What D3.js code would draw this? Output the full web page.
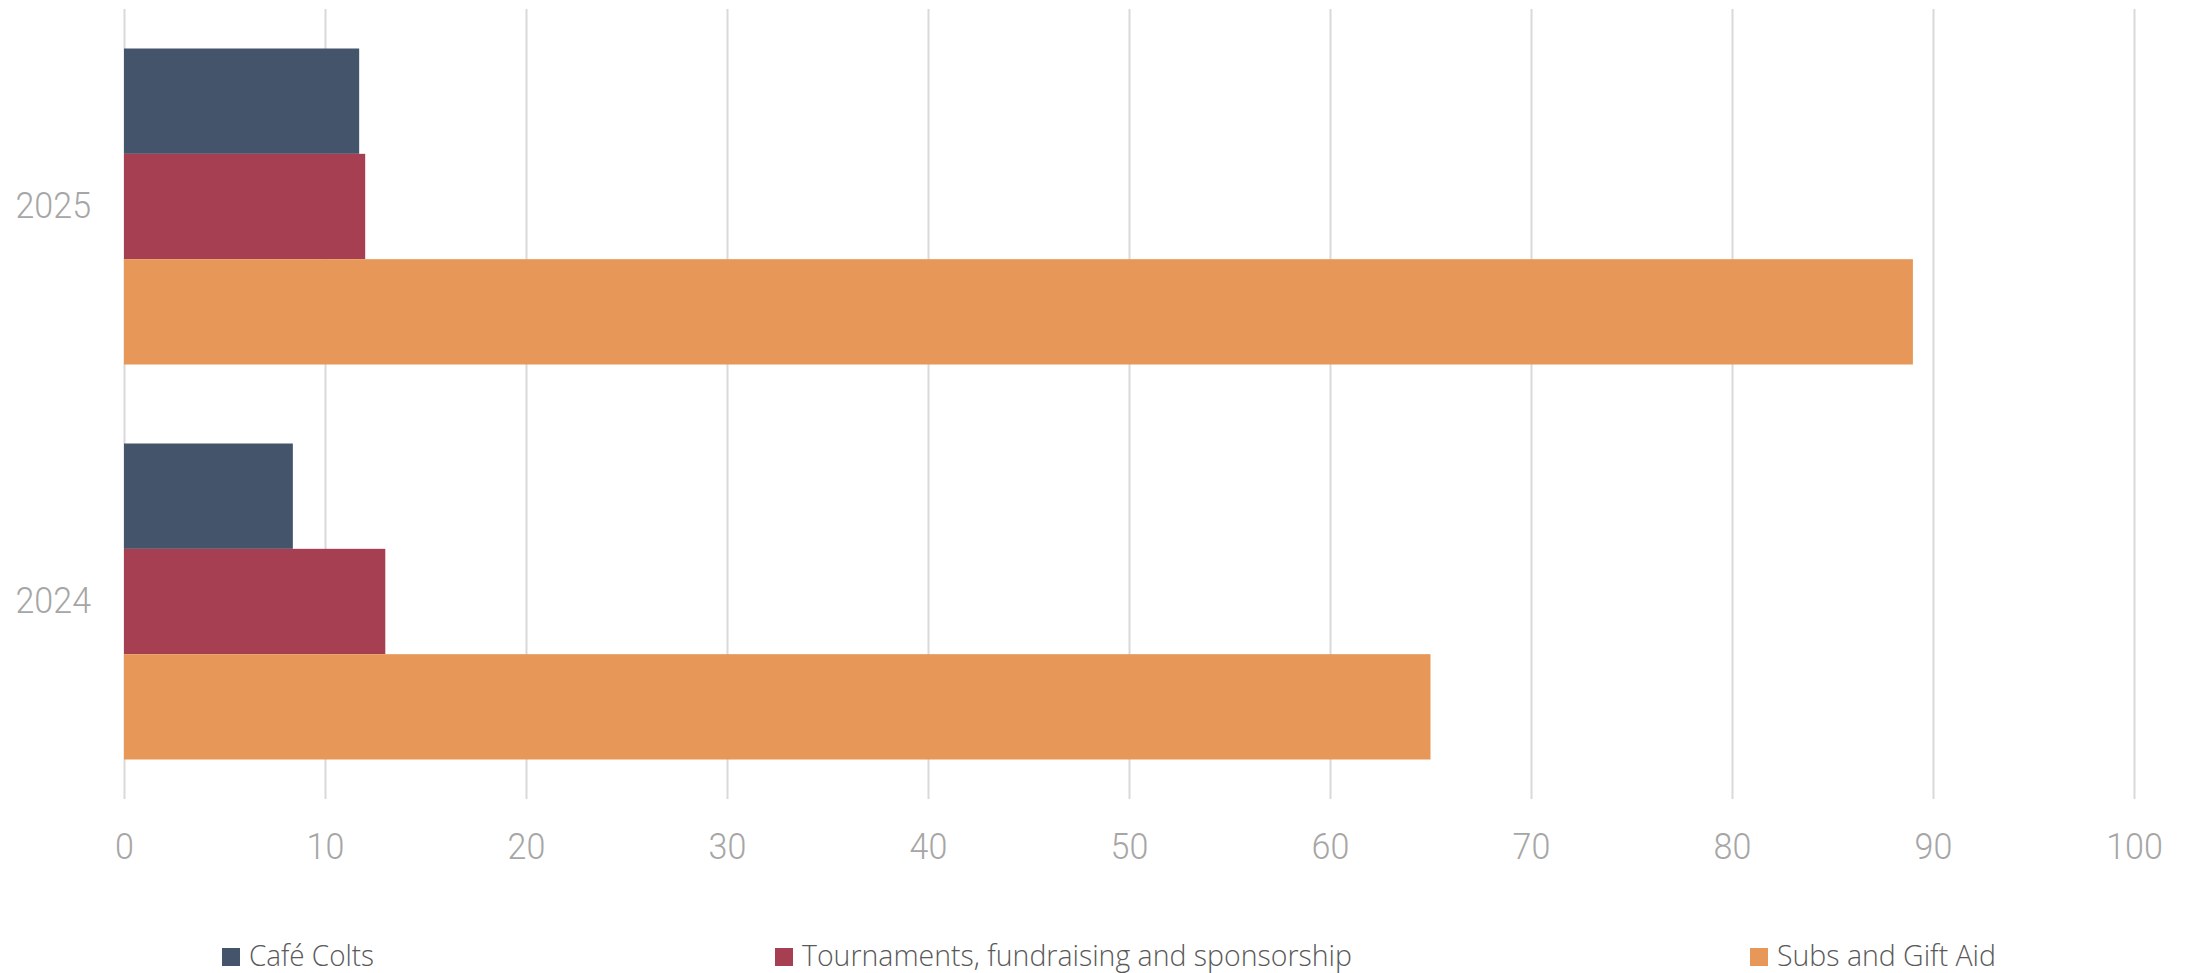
<!DOCTYPE html>
<html>
<head>
<meta charset="utf-8">
<script src="https://cdn.jsdelivr.net/npm/d3@7"></script>
<style>
  html, body { margin: 0; padding: 0; background: #fff; overflow: hidden; }
  svg { display: block; }
</style>
</head>
<body>
<div id="chart"></div>
<script>
// data
const years = ["2025", "2024"];
const seriesNames = ["Café Colts", "Tournaments, fundraising and sponsorship", "Subs and Gift Aid"];
const cafeColts = [11.7, 8.4];
const tournaments = [12, 13];
const subsGiftAid = [89, 65];
const xTicks = [0, 10, 20, 30, 40, 50, 60, 70, 80, 90, 100];

const colors = ["#44546A", "#A53F51", "#E79757"];
const seriesValues = [cafeColts, tournaments, subsGiftAid];

const rows = years.map((y, i) => ({
  year: y,
  values: seriesNames.map((s, j) => ({ series: s, value: seriesValues[j][i] }))
}));

/* Sizing */
const W = 2190, H = 973;
const margin = { top: 9, left: 124, right: 56, bottom: 174 };
const width = W - margin.left - margin.right,
  height = H - margin.top - margin.bottom;

const svg = d3.select("#chart")
  .append("svg")
  .attr("width", W)
  .attr("height", H);

const g = svg.append("g").attr("transform", `translate(${margin.left}, ${margin.top})`);

const xScale = d3.scaleLinear().domain([0, 100]).range([0, width]);
const yScale = d3.scaleBand().domain(years).range([0, height])
  .paddingInner(0.2).paddingOuter(0.1);
const ySub = d3.scaleBand().domain(seriesNames).range([0, yScale.bandwidth()]);

// squeeze text a little, the original font is narrower than Roboto
const squeeze = (sel, k) =>
  sel.each(function () {
    const w = this.getComputedTextLength();
    d3.select(this).attr("textLength", w * k).attr("lengthAdjust", "spacingAndGlyphs");
  });

// gridlines + tick labels
const xAxis = d3.axisBottom(xScale).tickValues(xTicks).tickSize(-height).tickPadding(34);
const xAxisDraw = g.append("g")
  .attr("transform", `translate(0, ${height})`)
  .call(xAxis);
xAxisDraw.select(".domain").remove();
xAxisDraw.selectAll(".tick line").attr("stroke", "#d9d9d9").attr("stroke-width", 2);
xAxisDraw.selectAll(".tick text")
  .attr("fill", "#a6a6a6")
  .style("font-family", "Roboto")
  .style("font-weight", 300)
  .style("font-size", "37px")
  .call(squeeze, 0.92);

// bars
const groups = g.selectAll(".yr")
  .data(rows)
  .join("g")
  .attr("class", "yr")
  .attr("transform", (d) => `translate(0, ${yScale(d.year)})`);

groups.selectAll("rect")
  .data((d) => d.values)
  .join("rect")
  .attr("x", xScale(0))
  .attr("y", (d) => ySub(d.series))
  .attr("height", ySub.bandwidth())
  .attr("width", (d) => xScale(d.value) - xScale(0))
  .attr("fill", (d, i) => colors[i]);

// year labels
const yAxis = d3.axisLeft(yScale).tickSize(0).tickPadding(33);
const yAxisDraw = g.append("g").call(yAxis);
yAxisDraw.select(".domain").remove();
yAxisDraw.selectAll(".tick text")
  .attr("fill", "#a6a6a6")
  .style("font-family", "Roboto")
  .style("font-weight", 300)
  .style("font-size", "37px")
  .call(squeeze, 0.92);

/* legend */
const legendX = [222, 775, 1750];
const legendW = [125, 550, 219];
const legend = svg.append("g").selectAll("g")
  .data(seriesNames)
  .join("g")
  .attr("transform", (d, i) => `translate(${legendX[i]}, 948)`);

legend.append("rect")
  .attr("width", 18).attr("height", 18)
  .attr("fill", (d, i) => colors[i]);

legend.append("text")
  .attr("x", 27)
  .attr("y", 18)
  .attr("textLength", (d, i) => legendW[i])
  .attr("lengthAdjust", "spacingAndGlyphs")
  .attr("fill", "#595959")
  .style("font-family", "Open Sans")
  .style("font-weight", 300)
  .style("font-size", "29px")
  .text((d) => d);
</script>
</body>
</html>
